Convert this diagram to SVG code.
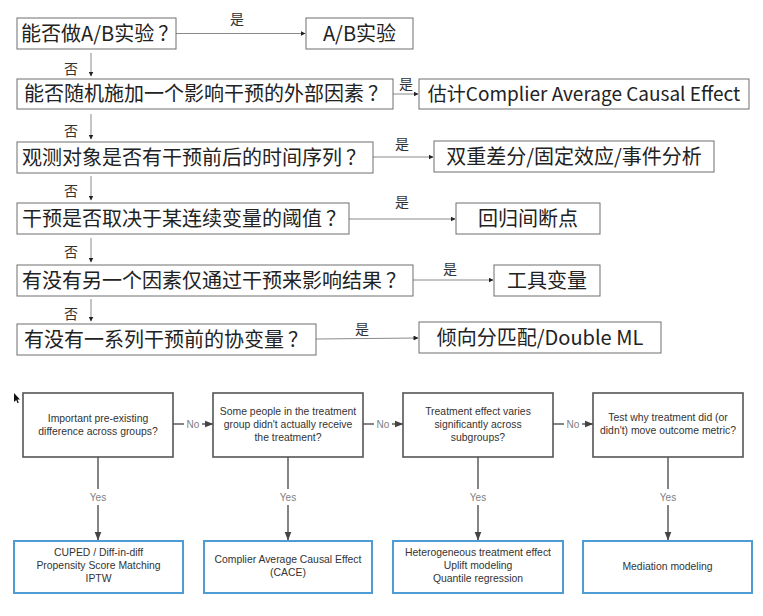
<svg xmlns="http://www.w3.org/2000/svg" width="763" height="616" viewBox="0 0 763 616">
<defs>
<style>
.q{fill:#fff;stroke:#6e6e6e;stroke-width:1}
.cn{font-family:"Noto Sans CJK SC","Noto Sans",sans-serif;font-size:20px;fill:#222}
.lb{font-family:"Noto Sans CJK SC",sans-serif;font-size:14px;fill:#333;text-anchor:middle}
.tl{stroke:#8a8a8a;stroke-width:1;fill:none}
.bq{fill:#fff;stroke:#555;stroke-width:1.6}
.br{fill:#fff;stroke:#4f9cd4;stroke-width:2}
.en{font-family:"Liberation Sans",Arial,sans-serif;font-size:10.4px;fill:#333;text-anchor:middle}
.yn{font-family:"Liberation Sans",Arial,sans-serif;font-size:10px;fill:#808080;text-anchor:middle}
.bl{stroke:#666;stroke-width:1.6;fill:none}
</style>
<marker id="ta" markerWidth="5" markerHeight="5" refX="4.5" refY="2.5" orient="auto" markerUnits="userSpaceOnUse"><path d="M0,0 L5,2.5 L0,5 Z" fill="#222"/></marker>
<marker id="ba" markerWidth="9" markerHeight="8" refX="8.5" refY="4" orient="auto" markerUnits="userSpaceOnUse"><path d="M0,0.5 L9,4 L0,7.5 Z" fill="#444"/></marker>
</defs>
<rect width="763" height="616" fill="#fff"/>

<g id="connectors">
<line class="tl" x1="176" y1="33.5" x2="305" y2="33.5" marker-end="url(#ta)"/>
<text class="lb" x="237" y="24">是</text>
<line class="tl" x1="393" y1="94" x2="418" y2="94" marker-end="url(#ta)"/>
<text class="lb" x="406" y="89">是</text>
<line class="tl" x1="373" y1="157" x2="433" y2="157" marker-end="url(#ta)"/>
<text class="lb" x="402" y="149">是</text>
<line class="tl" x1="349" y1="219" x2="455" y2="219" marker-end="url(#ta)"/>
<text class="lb" x="402" y="207">是</text>
<line class="tl" x1="413" y1="280" x2="493" y2="280" marker-end="url(#ta)"/>
<text class="lb" x="450" y="274">是</text>
<line class="tl" x1="316" y1="339" x2="418" y2="338" marker-end="url(#ta)"/>
<text class="lb" x="362" y="334">是</text>

<line class="tl" x1="91" y1="53" x2="91" y2="76" marker-end="url(#ta)"/>
<text class="lb" x="71" y="74">否</text>
<line class="tl" x1="91" y1="114" x2="91" y2="139" marker-end="url(#ta)"/>
<text class="lb" x="71" y="136">否</text>
<line class="tl" x1="91" y1="176" x2="91" y2="200" marker-end="url(#ta)"/>
<text class="lb" x="71" y="196">否</text>
<line class="tl" x1="91" y1="238" x2="91" y2="262" marker-end="url(#ta)"/>
<text class="lb" x="71" y="257">否</text>
<line class="tl" x1="91" y1="299" x2="91" y2="321" marker-end="url(#ta)"/>
<text class="lb" x="71" y="319">否</text>

<line class="bl" x1="173" y1="424" x2="184" y2="424"/>
<line class="bl" x1="202" y1="424" x2="213" y2="424" marker-end="url(#ba)"/>
<text class="yn" x="193" y="427.5">No</text>
<line class="bl" x1="363" y1="424" x2="374" y2="424"/>
<line class="bl" x1="392" y1="424" x2="403" y2="424" marker-end="url(#ba)"/>
<text class="yn" x="383" y="427.5">No</text>
<line class="bl" x1="553" y1="424" x2="564" y2="424"/>
<line class="bl" x1="582" y1="424" x2="593" y2="424" marker-end="url(#ba)"/>
<text class="yn" x="573" y="427.5">No</text>

<line class="bl" x1="98" y1="457" x2="98" y2="489"/>
<line class="bl" x1="98" y1="505" x2="98" y2="540" marker-end="url(#ba)"/>
<text class="yn" x="98" y="500.5">Yes</text>
<line class="bl" x1="288" y1="457" x2="288" y2="489"/>
<line class="bl" x1="288" y1="505" x2="288" y2="540" marker-end="url(#ba)"/>
<text class="yn" x="288" y="500.5">Yes</text>
<line class="bl" x1="478" y1="457" x2="478" y2="489"/>
<line class="bl" x1="478" y1="505" x2="478" y2="540" marker-end="url(#ba)"/>
<text class="yn" x="478" y="500.5">Yes</text>
<line class="bl" x1="668" y1="457" x2="668" y2="489"/>
<line class="bl" x1="668" y1="505" x2="668" y2="540" marker-end="url(#ba)"/>
<text class="yn" x="668" y="500.5">Yes</text>
</g>

<g id="q1"><rect class="q" x="17" y="18" width="159" height="31"/><text class="cn" x="21" y="40.5">能否做A/B实验<tspan dx="4">？</tspan></text></g>
<g id="r1"><rect class="q" x="306" y="18" width="107" height="31"/><text class="cn" x="359.5" y="40.5" text-anchor="middle">A/B实验</text></g>
<g id="q2"><rect class="q" x="17" y="79" width="376" height="30"/><text class="cn" x="24" y="101">能否随机施加一个影响干预的外部因素<tspan dx="4">？</tspan></text></g>
<g id="r2"><rect class="q" x="419" y="79" width="330" height="30"/><text class="cn" x="584" y="101" text-anchor="middle" style="font-size:19px">估计Complier Average Causal Effect</text></g>
<g id="q3"><rect class="q" x="17" y="142" width="356" height="31"/><text class="cn" x="22" y="164.5">观测对象是否有干预前后的时间序列<tspan dx="4">？</tspan></text></g>
<g id="r3"><rect class="q" x="434" y="141" width="280" height="31"/><text class="cn" x="574" y="163.5" text-anchor="middle">双重差分/固定效应/事件分析</text></g>
<g id="q4"><rect class="q" x="17" y="203" width="332" height="31"/><text class="cn" x="22" y="225.5">干预是否取决于某连续变量的阈值<tspan dx="4">？</tspan></text></g>
<g id="r4"><rect class="q" x="456" y="203" width="144" height="31"/><text class="cn" x="528" y="225.5" text-anchor="middle">回归间断点</text></g>
<g id="q5"><rect class="q" x="17" y="265" width="396" height="31"/><text class="cn" x="22" y="287.5">有没有另一个因素仅通过干预来影响结果<tspan dx="4">？</tspan></text></g>
<g id="r5"><rect class="q" x="494" y="265" width="106" height="31"/><text class="cn" x="547" y="287.5" text-anchor="middle">工具变量</text></g>
<g id="q6"><rect class="q" x="17" y="324" width="299" height="31"/><text class="cn" x="24" y="346.5">有没有一系列干预前的协变量<tspan dx="4">？</tspan></text></g>
<g id="r6"><rect class="q" x="419" y="322" width="242" height="31"/><text class="cn" x="540" y="344.5" text-anchor="middle">倾向分匹配/Double ML</text></g>

<g id="bq1"><rect class="bq" x="23" y="393" width="150" height="64"/>
<text class="en" x="98" y="422">Important pre-existing</text><text class="en" x="98" y="435">difference across groups?</text></g>
<g id="bq2"><rect class="bq" x="213" y="393" width="150" height="64"/>
<text class="en" x="288" y="415">Some people in the treatment</text><text class="en" x="288" y="428">group didn't actually receive</text><text class="en" x="288" y="441">the treatment?</text></g>
<g id="bq3"><rect class="bq" x="403" y="393" width="150" height="64"/>
<text class="en" x="478" y="415">Treatment effect varies</text><text class="en" x="478" y="428">significantly across</text><text class="en" x="478" y="441">subgroups?</text></g>
<g id="bq4"><rect class="bq" x="593" y="393" width="150" height="64"/>
<text class="en" x="668" y="421">Test why treatment did (or</text><text class="en" x="668" y="434">didn't) move outcome metric?</text></g>

<g id="br1"><rect class="br" x="14" y="541" width="169" height="52"/>
<text class="en" x="98.5" y="556">CUPED / Diff-in-diff</text><text class="en" x="98.5" y="569">Propensity Score Matching</text><text class="en" x="98.5" y="582">IPTW</text></g>
<g id="br2"><rect class="br" x="204" y="541" width="168" height="52"/>
<text class="en" x="288" y="562.5">Complier Average Causal Effect</text><text class="en" x="288" y="575.5">(CACE)</text></g>
<g id="br3"><rect class="br" x="393" y="541" width="170" height="52"/>
<text class="en" x="478" y="556">Heterogeneous treatment effect</text><text class="en" x="478" y="569">Uplift modeling</text><text class="en" x="478" y="582">Quantile regression</text></g>
<g id="br4"><rect class="br" x="583" y="541" width="169" height="52"/>
<text class="en" x="667.5" y="569.5">Mediation modeling</text></g>

<polygon points="14,393 14,402 16.2,400 17.6,403.3 18.8,402.8 17.4,399.6 20,399.4" fill="#111"/>
</svg>
